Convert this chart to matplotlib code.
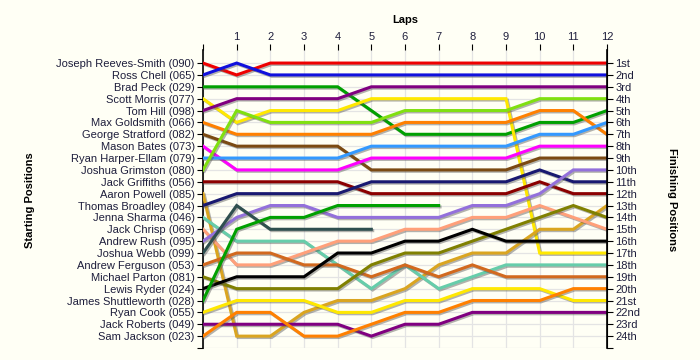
import matplotlib
matplotlib.use('Agg')
import matplotlib.pyplot as plt
import matplotlib.patheffects as pe
import numpy as np

# drivers in starting order
drivers = ['Joseph Reeves-Smith', 'Ross Chell', 'Brad Peck', 'Scott Morris', 'Tom Hill',
           'Max Goldsmith', 'George Stratford', 'Mason Bates', 'Ryan Harper-Ellam',
           'Joshua Grimston', 'Jack Griffiths', 'Aaron Powell', 'Thomas Broadley',
           'Jenna Sharma', 'Jack Chrisp', 'Andrew Rush', 'Joshua Webb', 'Andrew Ferguson',
           'Michael Parton', 'Lewis Ryder', 'James Shuttleworth', 'Ryan Cook',
           'Jack Roberts', 'Sam Jackson']
numbers = ['090', '065', '029', '077', '098', '066', '082', '073', '079', '080', '056',
           '085', '084', '046', '069', '095', '099', '053', '081', '024', '028', '055',
           '049', '023']
colors = ['#EE0000', '#1010DD', '#00A000', '#FFE800', '#800080', '#FF8000', '#7B4A12',
          '#FF00FF', '#3399FF', '#80E010', '#8B0000', '#DAA520', '#191970', '#66CDAA',
          '#FFA07A', '#9370DB', '#2F4F4F', '#D2691E', '#808000', '#000000', '#00A000',
          '#FFE800', '#800080', '#FF8000']

laps = list(range(0, 13))
finish_labels = ['1st', '2nd', '3rd'] + [f'{i}th' for i in range(4, 21)] + ['21st', '22nd', '23rd', '24th']

# position of each driver at lap 0..12 (None = retired)
positions = [
    [1, 2, 1, 1, 1, 1, 1, 1, 1, 1, 1, 1, 1],
    [2, 1, 2, 2, 2, 2, 2, 2, 2, 2, 2, 2, 2],
    [3, 3, 3, 3, 3, 5, 7, 7, 7, 7, 6, 6, 5],
    [4, 6, 5, 5, 5, 4, 4, 4, 4, 4, 17, 17, 17],
    [5, 4, 4, 4, 4, 3, 3, 3, 3, 3, 3, 3, 3],
    [6, 7, 7, 7, 7, 7, 6, 6, 6, 6, 5, 5, 7],
    [7, 8, 8, 8, 8, 10, 10, 10, 10, 10, 9, 9, 9],
    [8, 10, 10, 10, 10, 9, 9, 9, 9, 9, 8, 8, 8],
    [9, 9, 9, 9, 9, 8, 8, 8, 8, 8, 7, 7, 6],
    [10, 5, 6, 6, 6, 6, 5, 5, 5, 5, 4, 4, 4],
    [11, 11, 11, 11, 11, 12, 12, 12, 12, 12, 11, 12, 12],
    [12, 24, 24, 22, 21, 21, 20, 18, 17, 17, 15, 15, 13],
    [13, 12, 12, 12, 12, 11, 11, 11, 11, 11, 10, 11, 11],
    [14, 16, 16, 16, 18, 20, 18, 20, 19, 18, 18, 18, 18],
    [15, 18, 18, 17, 16, 16, 15, 15, 14, 14, 13, 14, 15],
    [16, 14, 13, 13, 14, 14, 14, 14, 13, 13, 12, 10, 10],
    [17, 13, 15, 15, 15, 15, None, None, None, None, None, None, None],
    [18, 17, 17, 18, 18, 19, 18, 19, 18, 19, 19, 19, 19],
    [19, 20, 20, 20, 20, 18, 17, 17, 16, 15, 14, 13, 14],
    [20, 19, 19, 19, 17, 17, 16, 16, 15, 16, 16, 16, 16],
    [21, 15, 14, 14, 13, 13, 13, 13, None, None, None, None, None],
    [22, 21, 21, 21, 22, 22, 21, 21, 20, 20, 20, 21, 21],
    [23, 23, 23, 23, 23, 24, 23, 23, 22, 22, 22, 22, 22],
    [24, 22, 22, 24, 24, 23, 22, 22, 21, 21, 21, 20, 20],
]

bg = '#FFFFF5'
txt = '#1E1E3C'
plt.rcParams['font.family'] = ['Liberation Sans', 'DejaVu Sans']

fig = plt.figure(figsize=(7, 3.6), dpi=100, facecolor=bg)
ax = fig.add_axes([203 / 700, 1 - 348 / 360, 404 / 700, 298 / 360])
ax.set_facecolor(bg)

shadow = [pe.SimpleLineShadow(offset=(1, -1), shadow_color='#555555', alpha=0.45), pe.Normal()]
for pos, col in zip(positions, colors):
    y = np.array([np.nan if p is None else p for p in pos], dtype=float)
    ax.plot(laps, y, color=col, lw=2.2, solid_joinstyle='miter', path_effects=shadow, zorder=3)

ax.set_xlim(0, 12)
ax.set_ylim(24.95, -0.1)

ax.set_xticks(laps)
ax.set_xticklabels([''] + [str(l) for l in laps[1:]])
ax.xaxis.tick_top()
ax.set_yticks(range(1, 26))
ax.set_yticklabels([f'{d} ({n})' for d, n in zip(drivers, numbers)] + [''])
ax.tick_params(axis='both', colors='black', labelcolor=txt, labelsize=8, length=4, width=0.8, pad=2)

ax.grid(True, color='#E4E4E4', lw=0.9, zorder=0)
ax.set_axisbelow(True)

for s in ['top', 'bottom']:
    ax.spines[s].set_visible(False)
ax.spines['left'].set_linewidth(1.2)

ax2 = ax.twinx()
ax2.set_ylim(ax.get_ylim())
ax2.set_yticks(range(1, 26))
ax2.set_yticklabels(finish_labels + [''])
ax2.tick_params(axis='y', colors='black', labelcolor=txt, labelsize=8, length=4, width=0.8, pad=2)
for s in ['top', 'bottom', 'left']:
    ax2.spines[s].set_visible(False)
ax2.spines['right'].set_linewidth(1.2)

fig.text(405 / 700, 1 - 20 / 360, 'Laps', ha='center', va='center', fontsize=8, fontweight='bold', color='black')
fig.text(30 / 700, 1 - 200 / 360, 'Starting Positions', ha='center', va='center', rotation=90,
         fontsize=8, fontweight='bold', color='black')
fig.text(672 / 700, 1 - 200 / 360, 'Finishing Positions', ha='center', va='center', rotation=-90,
         fontsize=8, fontweight='bold', color='black')

fig.savefig('out.png', dpi=100, facecolor=bg)
